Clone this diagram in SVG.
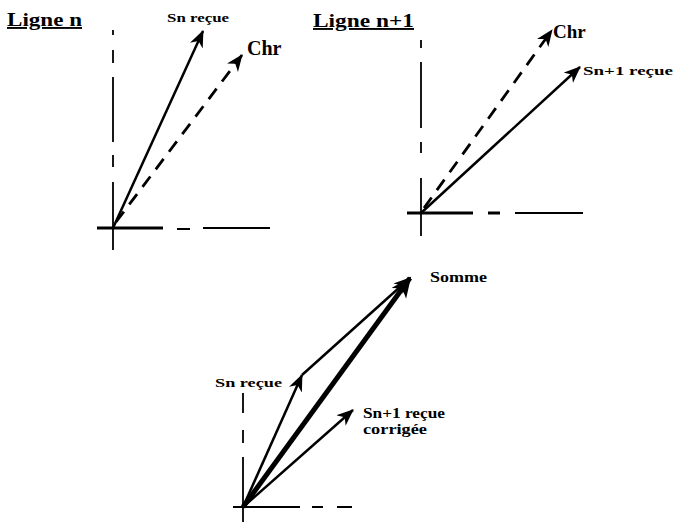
<svg xmlns="http://www.w3.org/2000/svg" width="674" height="522" viewBox="0 0 674 522">
  <style>
    .lbl { font-family: "Liberation Serif", "Times New Roman", serif; font-weight: bold; fill: #000; }
    .title { font-size: 19px; text-decoration: underline; }
    .axis { stroke: #000; fill: none; stroke-width: 1.8; }
    .axisThick { stroke: #000; fill: none; stroke-width: 3.2; }
    .vec { stroke: #000; fill: none; stroke-width: 2.5; marker-end: url(#ah); }
    .dvec { stroke: #000; fill: none; stroke-width: 2.8; stroke-dasharray: 13 9; marker-end: url(#ah); }
    .big { stroke: #000; fill: none; stroke-width: 5; marker-end: url(#ahBig); }
  </style>
  <defs>
    <marker id="ah" markerUnits="userSpaceOnUse" markerWidth="20" markerHeight="16" refX="16" refY="7" orient="auto">
      <path d="M0,0 L17,7 L0,14 L5,7 z" fill="#000"/>
    </marker>
    <marker id="ahBig" markerUnits="userSpaceOnUse" markerWidth="24" markerHeight="20" refX="19" refY="9" orient="auto">
      <path d="M0,0 L21,9 L0,18 L6,9 z" fill="#000"/>
    </marker>
  </defs>
  <rect width="674" height="522" fill="#fff"/>

  <!-- Panel 1 : Ligne n -->
  <g id="panel-ligne-n">
    <text class="lbl title" x="7" y="26" textLength="75" lengthAdjust="spacingAndGlyphs">Ligne n</text>
    <g id="axes-n">
      <path class="axis" d="M113,30 V35 M113,50 V63 M113,77 V142 M113,155 V167 M113,182 V250"/>
      <path class="axisThick" d="M97,228 H163"/>
      <path class="axis" d="M177,229 H190 M203,228 H270"/>
    </g>
  </g>

  <!-- Panel 2 : Ligne n+1 -->
  <g id="panel-ligne-n1">
    <text class="lbl title" x="313" y="27" textLength="101" lengthAdjust="spacingAndGlyphs">Ligne n+1</text>
    <g id="axes-n1">
      <path class="axis" d="M421,40 V48 M421,62 V128 M421,142 V153 M421,178 V236"/>
      <path class="axisThick" d="M407,213 H473 M488,213 H500"/>
      <path class="axis" d="M515,213 H583"/>
    </g>
  </g>

  <!-- Panel 3 : Somme -->
  <g id="panel-somme">
    <g id="axes-somme">
      <path class="axis" d="M243,393 V413 M243,430 V443 M243,457 V522"/>
      <path class="axis" d="M233,507 H300 M312,507 H323 M337,507 H352"/>
    </g>
  </g>

  <g id="connectors">
    <line id="v-sn" class="vec" x1="113" y1="228" x2="203" y2="31"/>
    <line id="v-chr1" class="dvec" x1="116" y1="222" x2="242" y2="55"/>
    <line id="v-chr2" class="dvec" x1="424" y1="208" x2="552" y2="30"/>
    <line id="v-sn1" class="vec" x1="421" y1="213" x2="580" y2="67"/>
    <line id="v3-sn" class="vec" x1="243" y1="507" x2="302" y2="375"/>
    <line id="v3-sn-tip" class="vec" x1="302" y1="375" x2="410" y2="278"/>
    <line id="v3-somme" class="big" x1="243" y1="507" x2="410" y2="278"/>
    <line id="v3-sn1c" class="vec" x1="243" y1="507" x2="353" y2="410"/>
  </g>

  <g id="labels">
    <text id="t-sn1" class="lbl" x="167" y="22" font-size="12" textLength="62" lengthAdjust="spacingAndGlyphs">Sn reçue</text>
    <text id="t-chr1" class="lbl" x="247" y="55" font-size="20">Chr</text>
    <text id="t-chr2" class="lbl" x="553" y="38" font-size="19">Chr</text>
    <text id="t-sn1r" class="lbl" x="583" y="75" font-size="12" textLength="90" lengthAdjust="spacingAndGlyphs">Sn+1 reçue</text>
    <text id="t-somme" class="lbl" x="430" y="282" font-size="15" textLength="57" lengthAdjust="spacingAndGlyphs">Somme</text>
    <text id="t-sn3" class="lbl" x="215" y="387" font-size="13" textLength="67" lengthAdjust="spacingAndGlyphs">Sn reçue</text>
    <text id="t-sn1c" class="lbl" x="363" y="418" font-size="14" textLength="82" lengthAdjust="spacingAndGlyphs">Sn+1 reçue</text>
    <text id="t-corr" class="lbl" x="363" y="434" font-size="14" textLength="64" lengthAdjust="spacingAndGlyphs">corrigée</text>
  </g>
</svg>
